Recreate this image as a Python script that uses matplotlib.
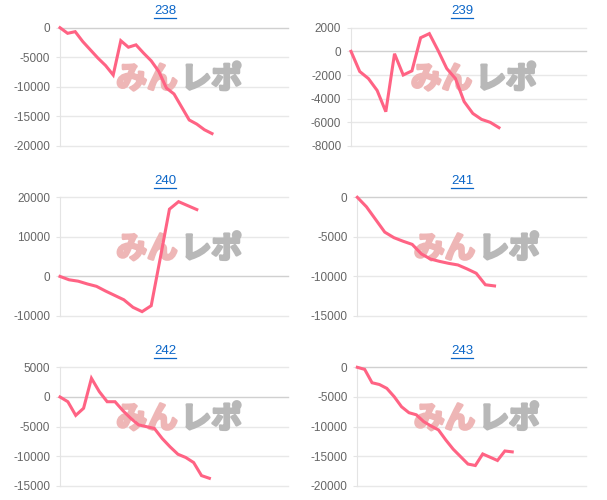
import numpy as np
import matplotlib
matplotlib.use('Agg')
import matplotlib.pyplot as plt
from matplotlib.lines import Line2D
import matplotlib.patheffects as pe

plt.rcParams['font.family'] = ['Liberation Sans', 'DejaVu Sans']

# chart data
titles = ['238', '239', '240', '241', '242', '243']

s238 = [0, -950, -670, -2350, -3750, -5150, -6400, -8000, -2200, -3300, -2900,
        -4300, -5600, -7400, -10200, -11200, -13400, -15600, -16300, -17250, -17900]
s239 = [0, -1700, -2300, -3300, -5100, -200, -2000, -1650, 1150, 1500, 80,
        -1450, -2300, -4250, -5250, -5750, -6000, -6450]
s240 = [0, -850, -1200, -1900, -2500, -3700, -4800, -5900, -7800, -8900, -7400,
        4700, 17000, 18900, 17900, 16900]
s241 = [0, -1200, -2800, -4400, -5100, -5550, -5950, -7150, -7800, -8100, -8350,
        -8550, -9050, -9600, -11050, -11200]
s242 = [0, -800, -3100, -1900, 3150, 900, -800, -800, -2300, -3600, -4700,
        -5000, -5300, -7000, -8400, -9650, -10200, -11050, -13250, -13700]
s243 = [0, -350, -2600, -2900, -3550, -4950, -6650, -7650, -8000, -9150, -9900,
        -10550, -12250, -13800, -15050, -16300, -16550, -14600, -15150, -15700,
        -14100, -14250]
series = [s238, s239, s240, s241, s242, s243]

x_slots = [30, 27, 25, 25, 29, 31]
y_limits = [(-20000, 0), (-8000, 2000), (-10000, 20000), (-15000, 0), (-15000, 5000), (-20000, 0)]
y_steps = [5000, 2000, 10000, 5000, 5000, 5000]

W, H = 607, 500
# plot areas in pixels: left, top, right, bottom
boxes = [(60, 27.7, 288, 146), (351, 27.7, 586, 146),
         (60, 197.3, 288, 316), (357.3, 197.3, 586, 316),
         (60, 367.3, 288, 486), (357.3, 367.3, 586, 486)]
title_pos = [(165, 11), (462, 11), (165, 181), (462, 181), (165, 351), (462, 351)]

fig = plt.figure(figsize=(W / 100, H / 100), dpi=100)

for i in range(6):
    l, t, r, b = boxes[i]
    ax = fig.add_axes([l / W, 1 - b / H, (r - l) / W, (b - t) / H])
    vals = series[i]
    ax.plot(np.arange(len(vals)), vals, color='#ff6384', lw=2.2, zorder=3,
            clip_on=False, solid_joinstyle='miter')
    lo, hi = y_limits[i]
    ax.set_xlim(0, x_slots[i])
    ax.set_ylim(lo, hi)
    ticks = np.arange(lo, hi + 1, y_steps[i])
    ax.set_yticks(ticks)
    ax.set_yticklabels([str(int(v)) for v in ticks])
    for v in ticks:
        c = '#d0d0d0' if v == 0 else '#e8e8e8'
        ax.axhline(v, color=c, lw=1, zorder=0, clip_on=False)
    ax.set_xticks([])
    for s in ['top', 'right', 'bottom']:
        ax.spines[s].set_visible(False)
    ax.spines['left'].set_color('#e4e4e4')
    ax.tick_params(axis='y', length=3, color='#e4e4e4', pad=4,
                   labelsize=8.5, labelcolor='#666666')
    # watermark
    ax.text(0.515, 0.565, 'みん', transform=ax.transAxes, ha='right', va='center',
            fontsize=22, fontweight='bold', color='#eeb6b6',
            family=['Noto Sans CJK JP'], zorder=1,
            path_effects=[pe.withStroke(linewidth=2, foreground='#eeb6b6')])
    ax.text(0.53, 0.565, 'レポ', transform=ax.transAxes, ha='left', va='center',
            fontsize=22, fontweight='bold', color='#b8b8b8',
            family=['Noto Sans CJK JP'], zorder=1,
            path_effects=[pe.withStroke(linewidth=2, foreground='#b8b8b8')])

    tx, ty = title_pos[i]
    fig.text(tx / W, 1 - ty / H, titles[i], ha='center', va='center',
             fontsize=9.5, color='#0b66c8')

fig.canvas.draw()
for t in fig.texts:
    bb = t.get_window_extent()
    y = (bb.y0 - 1) / H
    fig.add_artist(Line2D([bb.x0 / W, bb.x1 / W], [y, y], color='#0b66c8', lw=0.9))

fig.savefig('out.png', dpi=100)
